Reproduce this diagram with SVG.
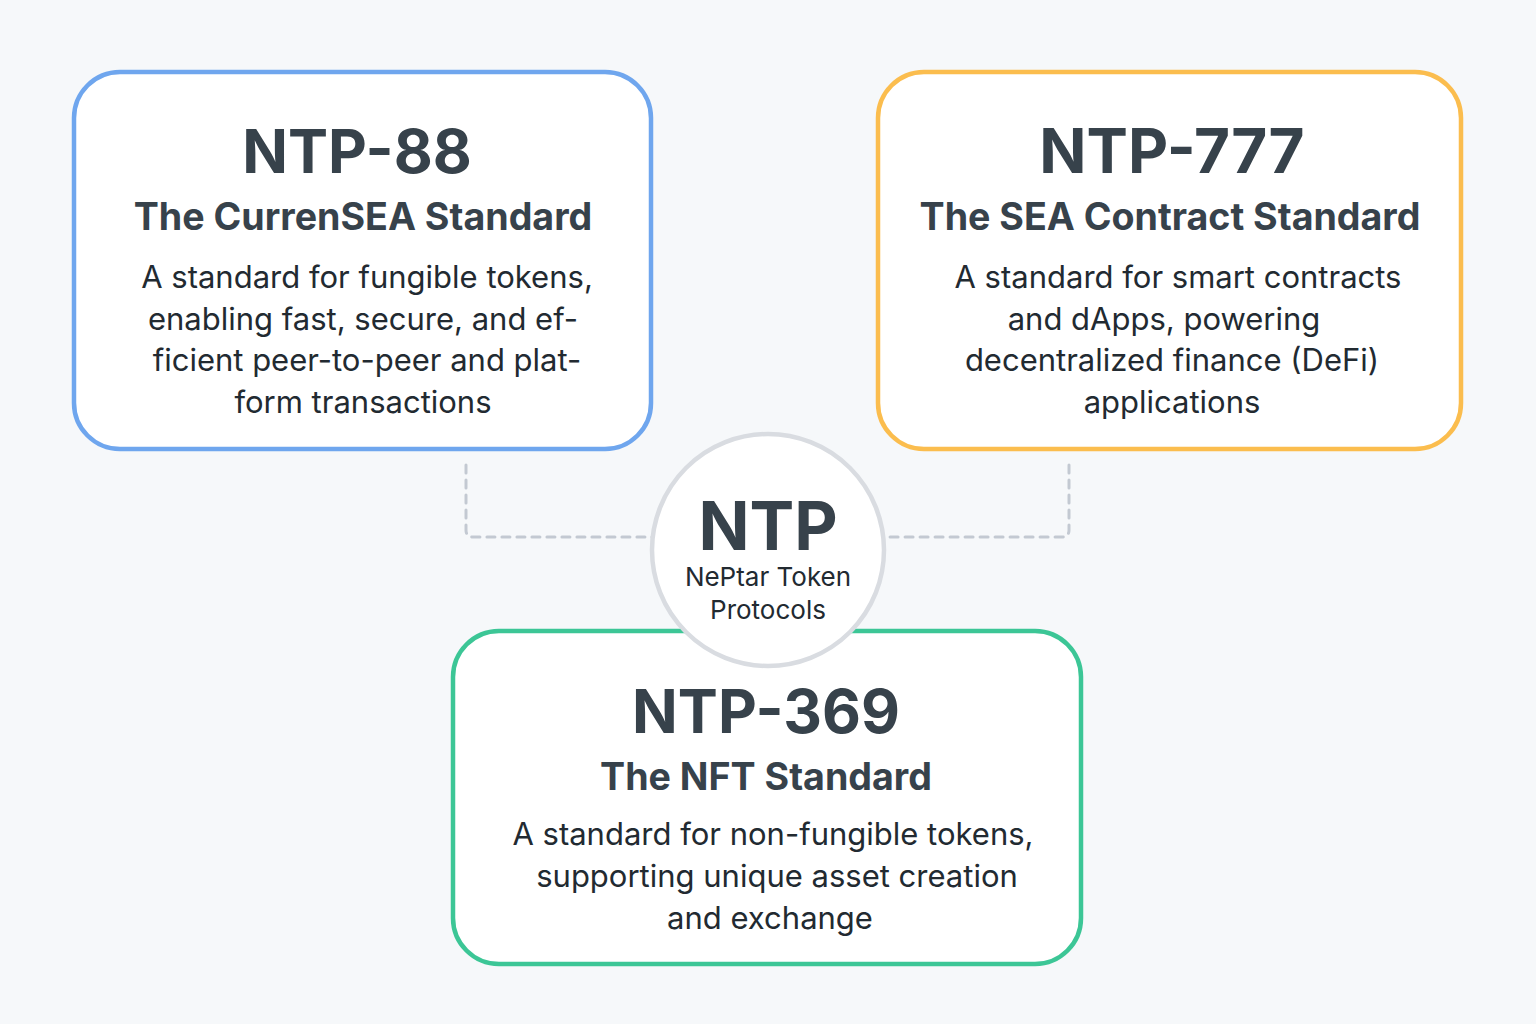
<svg xmlns="http://www.w3.org/2000/svg" width="1536" height="1024" viewBox="0 0 1536 1024">
<style>
.card{fill:#ffffff;stroke-width:4.5}
.title{font-family:Inter,"Noto Sans",sans-serif;font-weight:700;font-size:60px;fill:#37424b;text-anchor:middle}
.sub{font-family:Inter,"Noto Sans",sans-serif;font-weight:700;font-size:37.6px;fill:#37424b;text-anchor:middle}
.body{font-family:Inter,"Noto Sans",sans-serif;font-weight:400;font-size:31px;fill:#222a31;text-anchor:middle}
.conn{fill:none;stroke:#c3c9d2;stroke-width:3;stroke-dasharray:8 7;stroke-linecap:round}
</style>
<rect width="1536" height="1024" fill="#f6f8fa"/>
<g id="connectors">
<path class="conn" d="M466,465 V530 Q466,537 473,537 H652"/>
<path class="conn" d="M1069,465 V530 Q1069,537 1062,537 H884"/>
</g>
<g id="ntp88">
<rect class="card" x="74" y="72" width="577" height="377" rx="46" stroke="#6fa6ee"/>
<text class="title" x="357" y="173">NTP-88</text>
<text class="sub" x="363" y="230">The CurrenSEA Standard</text>
<text class="body" x="367" y="288">A standard for fungible tokens,</text>
<text class="body" x="363" y="330">enabling fast, secure, and ef-</text>
<text class="body" x="367" y="371">ficient peer-to-peer and plat-</text>
<text class="body" x="363" y="413">form transactions</text>
</g>
<g id="ntp777">
<rect class="card" x="878" y="72" width="583" height="377" rx="46" stroke="#fbbd4e"/>
<text class="title" x="1172" y="173" style="font-size:62px">NTP-777</text>
<text class="sub" x="1170" y="230">The SEA Contract Standard</text>
<text class="body" x="1178" y="288">A standard for smart contracts</text>
<text class="body" x="1164" y="330">and dApps, powering</text>
<text class="body" x="1172" y="371">decentralized finance (DeFi)</text>
<text class="body" x="1172" y="413">applications</text>
</g>
<g id="ntp369">
<rect class="card" x="453" y="631" width="628" height="333" rx="46" stroke="#3cc696"/>
<text class="title" x="766" y="733">NTP-369</text>
<text class="sub" x="766" y="790">The NFT Standard</text>
<text class="body" x="773" y="845">A standard for non-fungible tokens,</text>
<text class="body" x="777" y="887">supporting unique asset creation</text>
<text class="body" x="770" y="929">and exchange</text>
</g>
<g id="ntp">
<circle cx="768" cy="550" r="116" fill="#ffffff" stroke="#d9dce1" stroke-width="4.5"/>
<text class="title" x="768" y="550" style="font-size:67px">NTP</text>
<text class="body" x="768" y="586" style="font-size:26px">NePtar Token</text>
<text class="body" x="768" y="619" style="font-size:26px">Protocols</text>
</g>
</svg>
